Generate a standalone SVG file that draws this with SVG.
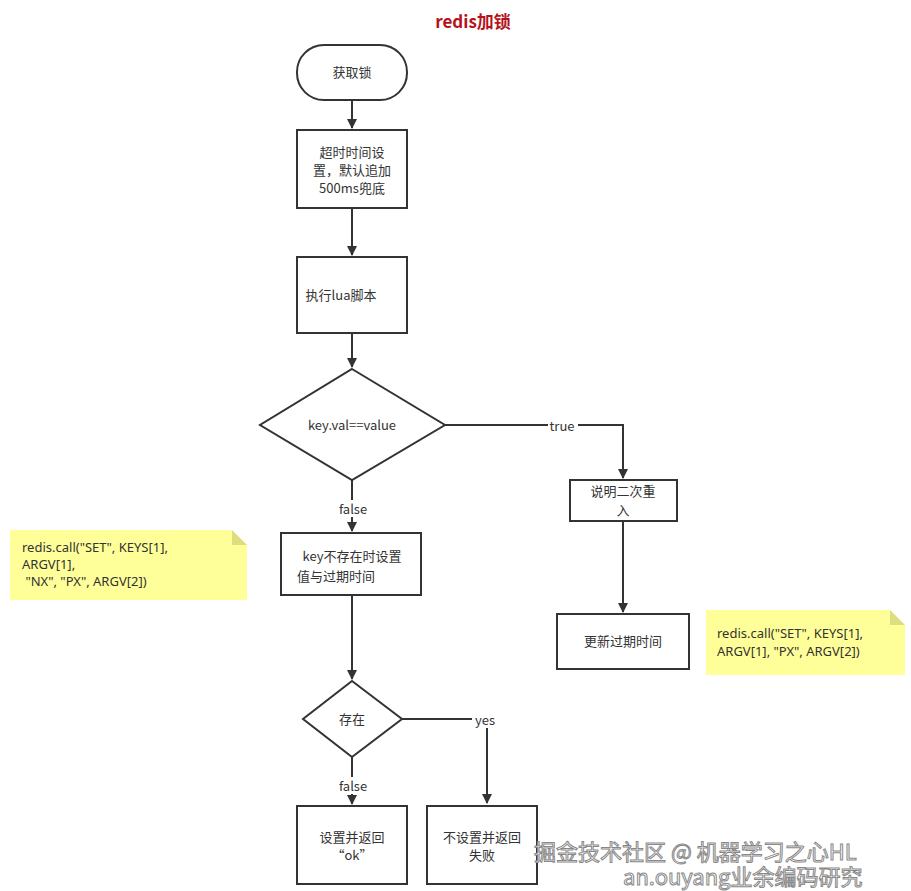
<svg xmlns="http://www.w3.org/2000/svg" width="911" height="891" viewBox="0 0 911 891">
<style>
.n{fill:#fff;stroke:#333;stroke-width:2}
.t{font-family:"Noto Sans CJK SC","Noto Sans",sans-serif;font-size:13px;fill:#333;text-anchor:middle}
.l{font-family:"Noto Sans CJK SC","Noto Sans",sans-serif;font-size:13px;fill:#333;text-anchor:middle}
.note{fill:#ffff99;stroke:none}
.nt{font-family:"Noto Sans","Liberation Sans",sans-serif;font-size:13px;fill:#333}
.c{fill:none;stroke:#333;stroke-width:2;marker-end:url(#a)}
.wm{font-family:"Noto Sans CJK SC",sans-serif;font-size:22px;fill:#fff;stroke:#888;stroke-width:1}
</style>
<defs><marker id="a" viewBox="0 0 10 10" refX="9" refY="5" markerWidth="5" markerHeight="5" orient="auto" markerUnits="strokeWidth"><path d="M0,0 L10,5 L0,10 Z" fill="#333"/></marker></defs>
<rect width="911" height="891" fill="#fff"/>
<text x="473" y="28" font-family="Noto Sans CJK SC,sans-serif" font-size="17" font-weight="bold" fill="#b5121b" text-anchor="middle">redis加锁</text>
<g id="connectors">
<path class="c" d="M352,100 V128"/>
<path class="c" d="M352,208 V255"/>
<path class="c" d="M352,333 V367"/>
<path class="c" d="M445,425 H623 V478"/>
<path class="c" d="M352,480 V531"/>
<path class="c" d="M352,595 V679"/>
<path class="c" d="M402,719 H487 V803"/>
<path class="c" d="M352,757 V804"/>
<path class="c" d="M623,521 V612"/>
<rect x="548" y="417" width="30" height="17" fill="#fff"/><text class="l" x="562" y="431">true</text>
<rect x="335" y="500" width="36" height="17" fill="#fff"/><text class="l" x="353" y="514">false</text>
<rect x="472" y="711" width="26" height="17" fill="#fff"/><text class="l" x="485" y="725">yes</text>
<rect x="335" y="777" width="36" height="17" fill="#fff"/><text class="l" x="353" y="791">false</text>
</g>
<g id="start"><rect class="n" x="297" y="45" width="110" height="55" rx="27"/><text class="t" x="352" y="77">获取锁</text></g>
<g id="timeout"><rect class="n" x="297" y="130" width="110" height="78"/><text class="t" x="352" y="157">超时时间设</text><text class="t" x="352" y="175">置，默认追加</text><text class="t" x="352" y="193">500ms兜底</text></g>
<g id="lua"><rect class="n" x="297" y="257" width="110" height="76"/><text class="t" x="341" y="300">执行lua脚本</text></g>
<g id="d1"><path class="n" d="M352,369 L445,425 L352,480 L260,425 Z"/><text class="t" x="352" y="430">key.val==value</text></g>
<g id="reenter"><rect class="n" x="570" y="480" width="107" height="41"/><text class="t" x="623" y="496">说明二次重</text><text class="t" x="623" y="515">入</text></g>
<g id="setnx"><rect class="n" x="281" y="533" width="140" height="62"/><text class="t" x="352" y="561">key不存在时设置</text><text class="t" x="336" y="581">值与过期时间</text></g>
<g id="note1"><path class="note" d="M10,530 H232 L247,545 V600 H10 Z"/><path d="M232,530 V545 H247" fill="#dede80"/><text class="nt" x="22" y="552">redis.call("SET", KEYS[1],</text><text class="nt" x="22" y="569">ARGV[1],</text><text class="nt" x="22" y="586" xml:space="preserve"> "NX", "PX", ARGV[2])</text></g>
<g id="d2"><path class="n" d="M352,681 L402,719 L352,757 L303,719 Z"/><text class="t" x="352" y="724">存在</text></g>
<g id="update"><rect class="n" x="557" y="614" width="132" height="55"/><text class="t" x="623" y="646">更新过期时间</text></g>
<g id="note2"><path class="note" d="M706,610 H890 L905,625 V675 H706 Z"/><path d="M890,610 V625 H905" fill="#dede80"/><text class="nt" x="717" y="638">redis.call("SET", KEYS[1],</text><text class="nt" x="717" y="656">ARGV[1], "PX", ARGV[2])</text></g>
<g id="ok"><rect class="n" x="297" y="806" width="110" height="78"/><text class="t" x="352" y="842">设置并返回</text><text class="t" x="352" y="860">“ok”</text></g>
<g id="fail"><rect class="n" x="427" y="806" width="110" height="78"/><text class="t" x="482" y="842">不设置并返回</text><text class="t" x="482" y="860">失败</text></g>
<text class="wm" x="534" y="860">掘金技术社区 @ 机器学习之心HL</text>
<text class="wm" x="623" y="885" font-size="22">an.ouyang业余编码研究</text>
</svg>
